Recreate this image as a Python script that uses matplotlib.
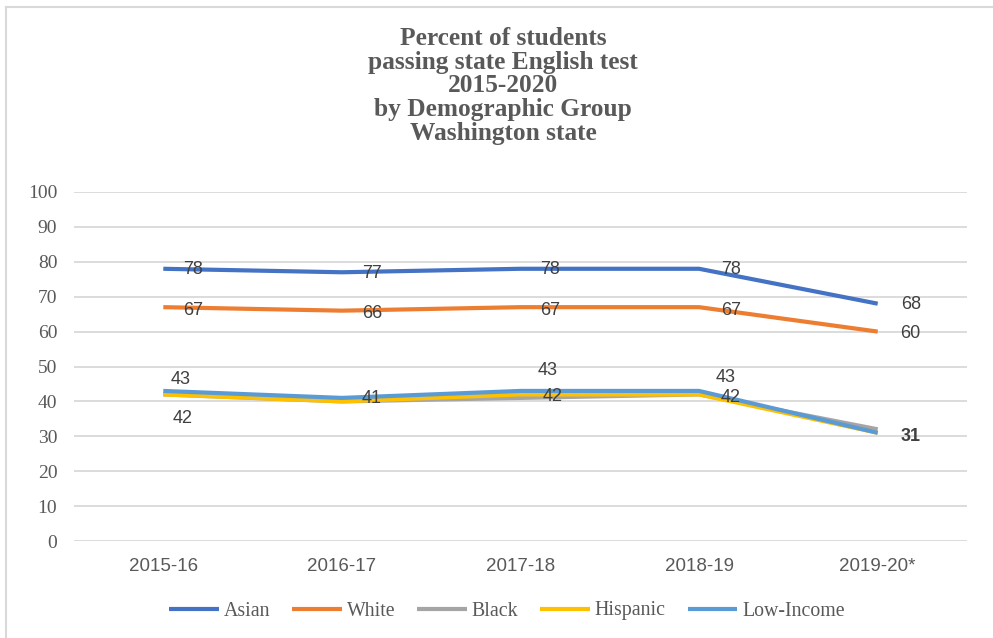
import matplotlib
matplotlib.use("Agg")
import matplotlib.pyplot as plt
from matplotlib.lines import Line2D

years = ["2015-16", "2016-17", "2017-18", "2018-19", "2019-20*"]
asian = [78, 77, 78, 78, 68]
white = [67, 66, 67, 67, 60]
black = [42, 40, 41, 42, 32]
hispanic = [42, 40, 42, 42, 31]
low_income = [43, 41, 43, 43, 31]

series = [
    ("Asian", asian, "#4472C4"),
    ("White", white, "#ED7D31"),
    ("Black", black, "#A5A5A5"),
    ("Hispanic", hispanic, "#FFC000"),
    ("Low-Income", low_income, "#5B9BD5"),
]

# visible data labels: (series index, point index, dx px, dy px (down), bold)
labels = [
    (0, 0, 30, 1, False), (0, 1, 30, 1, False), (0, 2, 30, 1, False),
    (0, 3, 32, 1, False), (0, 4, 33, 1, False),
    (1, 0, 30, 3, False), (1, 1, 30, 3, False), (1, 2, 30, 3, False),
    (1, 3, 32, 3, False), (1, 4, 33, 2, False),
    (4, 0, 17, -11, False), (3, 0, 19, 24, False),
    (4, 1, 30, 1, False),
    (4, 2, 27, -20, False), (3, 2, 32, 2, False),
    (4, 3, 27, -13, False), (3, 3, 32, 3, False),
    (4, 4, 33, 4, True),
]

W, H = 993, 638
fig = plt.figure(figsize=(W / 100, H / 100), dpi=100)
ax = fig.add_axes([74 / W, (H - 541) / H, 893 / W, 349 / H])

x = list(range(len(years)))
for name, vals, col in series:
    ax.plot(x, vals, color=col, lw=3.0, label=name, solid_capstyle="butt",
            solid_joinstyle="round", zorder=3)

sans = "Liberation Sans"
serif = "Liberation Serif"
for si, pi, dx, dy, bold in labels:
    vals = series[si][1]
    ax.annotate(str(vals[pi]), (pi, vals[pi]), xytext=(dx * 0.72, -dy * 0.72),
                textcoords="offset points", ha="center", va="center",
                fontsize=13, color="#404040", family=sans,
                fontweight="bold" if bold else "normal", zorder=5)

ax.set_xlim(-0.5, 4.5)
ax.set_ylim(0, 100)
ax.set_yticks(range(0, 101, 10))
ax.set_xticks(x)
ax.set_xticklabels(years, family=sans, fontsize=13.5, color="#595959")
for t in ax.get_yticklabels():
    t.set_family(serif)
    t.set_fontsize(14)
    t.set_color("#595959")
ax.tick_params(axis="both", length=0)
ax.tick_params(axis="y", pad=12)
ax.tick_params(axis="x", pad=12)
ax.grid(axis="y", color="#D9D9D9", lw=1.3)
ax.set_axisbelow(True)
for s in ax.spines.values():
    s.set_visible(False)

fig.text(503 / W, 1 - 27 / H,
         "Percent of students\npassing state English test\n2015-2020\nby Demographic Group\nWashington state",
         ha="center", va="top", family=serif, fontweight="bold", fontsize=18.3,
         color="#595959", linespacing=1.04)

leg = fig.legend(loc="center", bbox_to_anchor=(507 / W, 1 - 611 / H), ncol=5,
                 frameon=False, prop={"family": serif, "size": 14.3},
                 handlelength=2.5, handletextpad=0.25, columnspacing=1.1)
for t in leg.get_texts():
    t.set_color("#595959")

fig.add_artist(Line2D([6 / W, 6 / W], [0, 1 - 7 / H], color="#D9D9D9", lw=1.5))
fig.add_artist(Line2D([6 / W, 1], [1 - 7 / H, 1 - 7 / H], color="#D9D9D9", lw=1.5))

fig.savefig("out.png", dpi=100)
